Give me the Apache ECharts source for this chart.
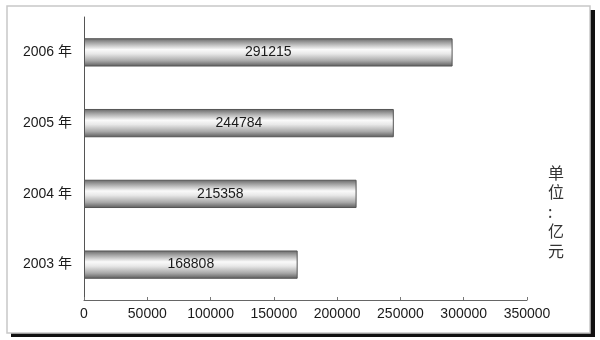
<!DOCTYPE html>
<html>
<head>
<meta charset="utf-8">
<script src="https://cdn.jsdelivr.net/npm/echarts@6/dist/echarts.min.js"></script>
<style>html,body{margin:0;padding:0;background:#fff;}#c{width:600px;height:340px;}</style>
</head>
<body>
<div id="c"></div>
<script>
var categories = ['2003 年', '2004 年', '2005 年', '2006 年'];
var values = [168808, 215358, 244784, 291215];
var unitText = '单\n位\n:\n亿\n元';

var FONT = '"Liberation Sans", "Noto Sans CJK SC", sans-serif';
var chart = echarts.init(document.getElementById('c'));
chart.setOption({
  animation: false,
  backgroundColor: '#fff',
  graphic: [
    { type: 'rect', z: -20, silent: true, shape: { x: 11, y: 10, width: 584, height: 327 }, style: { fill: '#111' } },
    { type: 'rect', z: -19, silent: true, shape: { x: 7, y: 6, width: 583, height: 327 }, style: { fill: '#fff', stroke: '#c8c8c8', lineWidth: 1.5 } },
    { type: 'text', z: 10, left: 548, top: 163, style: { text: unitText, font: '16px "Noto Sans CJK SC", sans-serif', fill: '#333', lineHeight: 19.5, align: 'center' } }
  ],
  grid: { left: 84, right: 73, top: 17, bottom: 40, containLabel: false },
  xAxis: {
    type: 'value', min: 0, max: 350000, interval: 50000,
    axisLine: { show: true, lineStyle: { color: '#666', width: 1 } },
    axisTick: { show: true, length: 3, inside: true, lineStyle: { color: '#777' } },
    splitLine: { show: false },
    axisLabel: { color: '#1a1a1a', fontSize: 14, fontFamily: FONT, margin: 7, formatter: function (v) { return String(v); } }
  },
  yAxis: {
    type: 'category', data: categories,
    axisLine: { show: true, lineStyle: { color: '#555', width: 1 } },
    axisTick: { show: false },
    axisLabel: { color: '#1a1a1a', fontSize: 14, fontFamily: FONT, margin: 12 }
  },
  series: [{
    type: 'bar',
    data: values,
    barWidth: '40%',
    itemStyle: {
      borderColor: '#555', borderWidth: 1,
      color: new echarts.graphic.LinearGradient(0, 0, 0, 1, [
        { offset: 0, color: '#666666' },
        { offset: 0.15, color: '#a0a0a0' },
        { offset: 0.4, color: '#fafafa' },
        { offset: 0.55, color: '#e8e8e8' },
        { offset: 0.8, color: '#a8a8a8' },
        { offset: 1, color: '#5a5a5a' }
      ])
    },
    label: { show: true, position: 'inside', color: '#1a1a1a', fontSize: 14, fontFamily: FONT }
  }]
});
</script>
</body>
</html>
